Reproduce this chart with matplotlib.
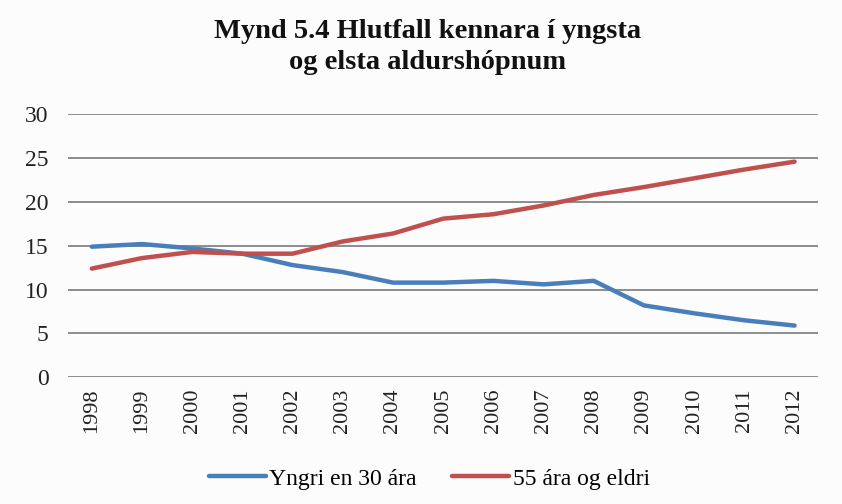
#!/usr/bin/env python3

import matplotlib.pyplot as plt


YEARS = ["1998", "1999", "2000", "2001", "2002", "2003", "2004", "2005",
         "2006", "2007", "2008", "2009", "2010", "2011", "2012"]
YOUNG = [14.9, 15.2, 14.7, 14.1, 12.8, 12.0, 10.8, 10.8,
         11.0, 10.6, 11.0, 8.2, 7.3, 6.5, 5.9]
OLD = [12.4, 13.6, 14.3, 14.1, 14.1, 15.5, 16.4, 18.1,
       18.6, 19.6, 20.8, 21.7, 22.7, 23.7, 24.6]
SERIES_LABELS = ["Yngri en 30 ára", "55 ára og eldri"]
TITLE = "Mynd 5.4 Hlutfall kennara í yngsta\nog elsta aldurshópnum"

BLUE = "#4a7ebb"
RED = "#c0504d"
GRID = "#8c8c8c"
BG = "#fcfcfd"


def main():
    plt.rcParams["font.family"] = ["Liberation Serif", "DejaVu Serif"]

    fig = plt.figure(figsize=(8.42, 5.04), dpi=100, facecolor=BG)
    ax = fig.add_axes([0.081, 0.2514, 0.8907, 0.5218], facecolor=BG)

    x = list(range(len(YEARS)))
    ax.plot(x, YOUNG, color=BLUE, linewidth=3.2, label=SERIES_LABELS[0],
            solid_capstyle="round", zorder=3)
    ax.plot(x, OLD, color=RED, linewidth=3.2, label=SERIES_LABELS[1],
            solid_capstyle="round", zorder=3)

    ax.set_ylim(0, 30)
    ax.set_yticks(range(0, 31, 5))
    ax.set_xlim(-0.47, len(YEARS) - 1 + 0.47)
    ax.set_xticks(x)
    ax.set_xticklabels(YEARS, rotation=90)
    ax.tick_params(axis="both", length=0, colors="#222222")
    ax.tick_params(axis="y", pad=14, labelsize=17)
    ax.tick_params(axis="x", pad=8, labelsize=16)

    ax.grid(axis="y", color=GRID, linewidth=1.4)
    ax.set_axisbelow(True)
    for spine in ax.spines.values():
        spine.set_visible(False)

    fig.text(0.508, 0.907, TITLE, ha="center", va="center", fontsize=20.5,
             fontweight="bold", linespacing=1.3, color="#111111")

    fig.legend(loc="center", bbox_to_anchor=(0.51, 0.05), ncol=2,
               frameon=False, fontsize=17, handlelength=2.4,
               handletextpad=0.15, columnspacing=1.5)

    fig.savefig("out.png", dpi=100, facecolor=BG)


if __name__ == "__main__":
    main()
